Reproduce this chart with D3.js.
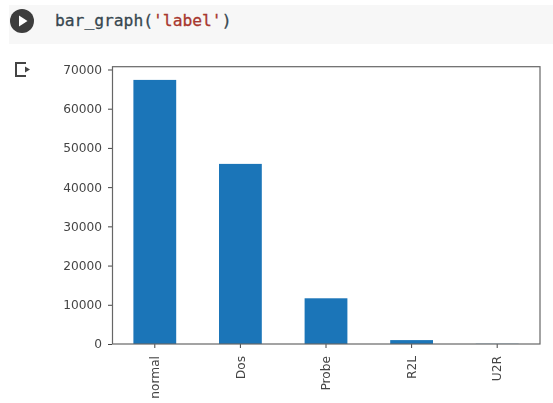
<!DOCTYPE html>
<html>
<head>
<meta charset="utf-8">
<script src="https://cdn.jsdelivr.net/npm/d3@7"></script>
<style>
html, body { margin: 0; padding: 0; background: #fff; overflow: hidden; }
svg { display: block; filter: blur(0.6px); }
text { font-family: "DejaVu Sans", sans-serif; }
</style>
</head>
<body>
<svg width="553" height="403"></svg>
<script>
const categories = ['normal', 'Dos', 'Probe', 'R2L', 'U2R'];
const counts = [67343, 45927, 11656, 995, 52];
const y_ticks = [0, 10000, 20000, 30000, 40000, 50000, 60000, 70000];

const svg = d3.select('svg');
const ink = '#444';

// notebook cell
svg.append('rect').attr('x', 9).attr('y', 5).attr('width', 544).attr('height', 39).attr('fill', '#f7f7f7');
svg.append('circle').attr('cx', 22).attr('cy', 21).attr('r', 12).attr('fill', '#3d3d3d');
svg.append('path').attr('d', 'M19 15.5 L27.5 21 L19 26.5 Z').attr('fill', '#fff');

const code = svg.append('text')
	.attr('x', 55).attr('y', 26)
	.style('font-family', '"DejaVu Sans Mono", monospace')
	.style('font-size', '16.3px')
	.style('stroke-width', '0.3px');
code.append('tspan').attr('fill', '#37474f').attr('stroke', '#37474f').text('bar_graph(');
code.append('tspan').attr('fill', '#a8382f').attr('stroke', '#a8382f').text("'label'");
code.append('tspan').attr('fill', '#37474f').attr('stroke', '#37474f').text(')');

// output icon
svg.append('path')
	.attr('d', 'M26 63 H16 V76 H26')
	.attr('fill', 'none').attr('stroke', '#444').attr('stroke-width', 2);
svg.append('path').attr('d', 'M25 66.5 L30 69.5 L25 72.5 Z').attr('fill', '#444');

// chart
const x = d3.scaleBand()
	.domain(categories)
	.range([112, 540])
	.paddingInner(0.5)
	.paddingOuter(0.25);
const y = d3.scaleLinear()
	.domain([0, d3.max(counts) * 1.05])
	.range([344, 66.7]);

svg.append('g').selectAll('rect')
	.data(counts)
	.join('rect')
	.attr('x', (d, i) => x(categories[i]))
	.attr('y', d => y(d))
	.attr('width', x.bandwidth())
	.attr('height', d => y(0) - y(d))
	.attr('fill', '#1b75b8');

const y_ax = d3.axisLeft(y).tickValues(y_ticks).tickFormat(d3.format('d')).tickSize(4).tickPadding(6);
const x_ax = d3.axisBottom(x).tickSize(4).tickPadding(3);

const h_y_ax = svg.append('g').attr('transform', 'translate(112,0)').call(y_ax);
const h_x_ax = svg.append('g').attr('transform', 'translate(0,344)').call(x_ax);

h_y_ax.selectAll('text').style('font-size', '12.2px').attr('fill', ink);
h_x_ax.selectAll('text')
	.style('font-size', '12.2px')
	.attr('fill', ink)
	.attr('transform', 'rotate(-90)')
	.attr('text-anchor', 'end')
	.attr('x', -12)
	.attr('y', 0)
	.attr('dy', '0.35em');
svg.selectAll('.tick line').attr('stroke', ink);
svg.selectAll('.domain').remove();

// frame
svg.append('rect')
	.attr('x', 112.5).attr('y', y.range()[1])
	.attr('width', 427.5).attr('height', 344 - y.range()[1])
	.attr('fill', 'none').attr('stroke', '#666').attr('stroke-width', 1.2);
</script>
</body>
</html>
